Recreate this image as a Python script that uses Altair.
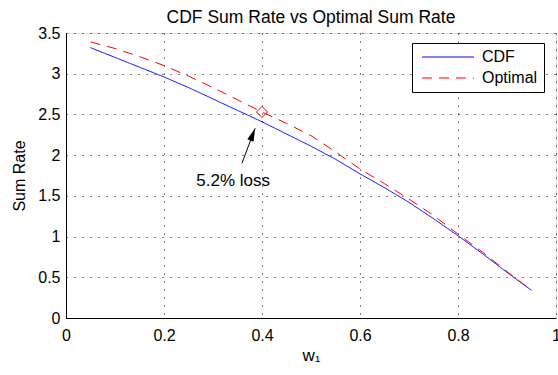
import altair as alt
import pandas as pd

# ---- data ----
w1 = [0.05, 0.10, 0.15, 0.20, 0.25, 0.30, 0.35, 0.40, 0.45, 0.50,
      0.55, 0.60, 0.65, 0.70, 0.75, 0.80, 0.85, 0.90, 0.95]
cdf_rate = [3.32, 3.20, 3.08, 2.96, 2.83, 2.69, 2.55, 2.41, 2.26, 2.11,
            1.95, 1.77, 1.60, 1.42, 1.22, 1.01, 0.79, 0.56, 0.34]
opt_rate = [3.39, 3.31, 3.21, 3.10, 2.97, 2.83, 2.68, 2.53, 2.39, 2.24,
            2.04, 1.83, 1.65, 1.46, 1.26, 1.03, 0.81, 0.57, 0.34]
series_names = ["CDF", "Optimal"]

marker_w1 = [0.40]
marker_rate = [2.53]

arrow_tail_w1 = [0.359]
arrow_tail_rate = [1.90]
arrow_tip_w1 = [0.386]
arrow_tip_rate = [2.33]

note_text = ["5.2% loss"]
note_w1 = [0.341]
note_rate = [1.68]

x_ticks = [0, 0.2, 0.4, 0.6, 0.8, 1]
y_ticks = [0, 0.5, 1, 1.5, 2, 2.5, 3, 3.5]

FONT = "Liberation Sans"

df = pd.DataFrame({
    "w1": w1 + w1,
    "rate": cdf_rate + opt_rate,
    "series": [series_names[0]] * len(w1) + [series_names[1]] * len(w1),
})
marker_df = pd.DataFrame({"w1": marker_w1, "rate": marker_rate})
arrow_df = pd.DataFrame({"w1": arrow_tail_w1, "rate": arrow_tail_rate,
                         "w1b": arrow_tip_w1, "rateb": arrow_tip_rate})
tip_df = pd.DataFrame({"w1": arrow_tip_w1, "rate": arrow_tip_rate})
note_df = pd.DataFrame({"w1": note_w1, "rate": note_rate, "t": note_text})

xscale = alt.Scale(domain=[0, 1], nice=False, zero=False)
yscale = alt.Scale(domain=[0, 3.5], nice=False, zero=False)

xaxis = alt.Axis(values=x_ticks, format="~g", title="w₁", grid=True,
                 gridColor="#000000", gridDash=[1, 7], gridWidth=1,
                 domainColor="#000000", domainWidth=1, ticks=False,
                 labelPadding=9, labelFontSize=16, labelColor="#000000",
                 labelFont=FONT, titleFont=FONT, titleFontSize=17,
                 titleFontWeight="normal", titleColor="#000000", titlePadding=4,
                 labelFlush=False, labelOverlap=False)
yaxis = alt.Axis(values=y_ticks, format="~g", title="Sum Rate", grid=True,
                 gridColor="#000000", gridDash=[1, 7], gridWidth=1,
                 domainColor="#000000", domainWidth=1, ticks=False,
                 labelPadding=6, labelFontSize=16, labelColor="#000000",
                 labelFont=FONT, titleFont=FONT, titleFontSize=16,
                 titleFontWeight="normal", titleColor="#000000", titlePadding=10,
                 labelFlush=False, labelOverlap=False)

leg = alt.Legend(title=None, orient="none", legendX=346, legendY=10,
                 strokeColor="#000000", fillColor="#ffffff", padding=6,
                 symbolType="M-4,0H4", symbolSize=169, symbolStrokeWidth=1,
                 symbolOffset=22, labelOffset=26, labelFontSize=16,
                 labelFont=FONT, labelColor="#000000", rowPadding=5,
                 symbolLimit=0)

lines = alt.Chart(df).mark_line(strokeWidth=1).encode(
    x=alt.X("w1:Q", scale=xscale, axis=xaxis),
    y=alt.Y("rate:Q", scale=yscale, axis=yaxis),
    color=alt.Color("series:N", scale=alt.Scale(domain=series_names,
                    range=["#0000ff", "#ff0000"]), legend=leg),
    strokeDash=alt.StrokeDash("series:N", scale=alt.Scale(domain=series_names,
                    range=[[1, 0], [10, 7]]), legend=leg),
)

marker = alt.Chart(marker_df).mark_point(shape="diamond", size=121, filled=False,
                                         color="#ff0000", strokeWidth=1,
                                         opacity=1).encode(
    x=alt.X("w1:Q", scale=xscale), y=alt.Y("rate:Q", scale=yscale))

arrow = alt.Chart(arrow_df).mark_rule(color="#000000", strokeWidth=1).encode(
    x=alt.X("w1:Q", scale=xscale), y=alt.Y("rate:Q", scale=yscale),
    x2="w1b:Q", y2="rateb:Q")

head = alt.Chart(tip_df).mark_point(shape="M0,0L-0.36,1.4L0.36,1.4Z", size=350,
                                    filled=True, color="#000000", opacity=1,
                                    angle=21, strokeWidth=0).encode(
    x=alt.X("w1:Q", scale=xscale), y=alt.Y("rate:Q", scale=yscale))

note = alt.Chart(note_df).mark_text(fontSize=17, font=FONT, color="#000000",
                                    align="center", baseline="middle").encode(
    x=alt.X("w1:Q", scale=xscale), y=alt.Y("rate:Q", scale=yscale), text="t:N")

chart = alt.layer(lines, marker, arrow, head, note).properties(
    width=490, height=285,
    title=alt.TitleParams("CDF Sum Rate vs Optimal Sum Rate", fontSize=17.5,
                          fontWeight="normal", font=FONT, color="#000000",
                          baseline="bottom", offset=2, dy=21, anchor="middle"),
    autosize=alt.AutoSizeParams(type="none"),
    padding={"left": 66, "top": 33, "right": 2, "bottom": 57},
).configure_view(stroke=None).configure(font=FONT, background="#ffffff")

chart.save("out.html", embed_options={"renderer": "svg", "actions": False})
